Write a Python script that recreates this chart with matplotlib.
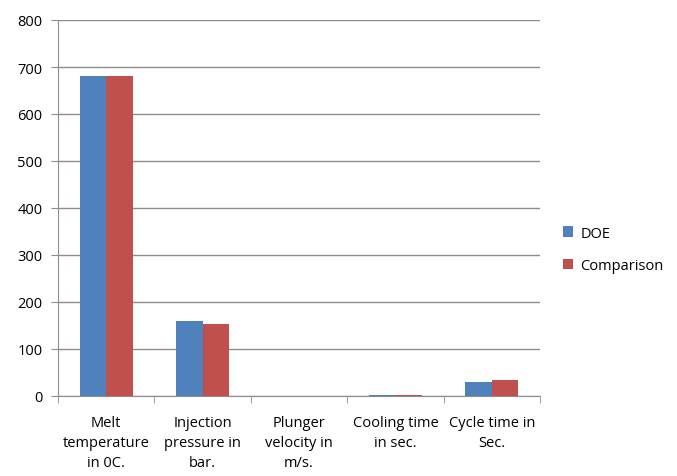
import numpy as np
import matplotlib.pyplot as plt

categories = ["Melt\ntemperature\nin 0C.", "Injection\npressure in\nbar.", "Plunger\nvelocity in\nm/s.",
              "Cooling time\nin sec.", "Cycle time in\nSec."]
doe = [680, 160, 0.5, 3, 29]
comparison = [680, 153, 0.5, 3, 34]

plt.rcParams['font.family'] = ['Open Sans', 'DejaVu Sans']

fig = plt.figure(figsize=(6.77, 4.77), dpi=100)
ax = fig.add_axes([58 / 677, 1 - 397 / 477, 482 / 677, 376 / 477])

x = np.arange(len(categories))
w = 0.275
ax.bar(x - w / 2, doe, w, color="#4F81BD", label="DOE", zorder=3)
ax.bar(x + w / 2, comparison, w, color="#C0504D", label="Comparison", zorder=3)

ax.set_xlim(-0.5, len(categories) - 0.5)
ax.set_ylim(0, 800)
ax.set_yticks(range(0, 801, 100))
ax.yaxis.grid(True, color="#8C8C8C", linewidth=1, zorder=0)

ax.set_xticks(x)
ax.set_xticklabels(categories, fontsize=10.5, linespacing=1.45)
ax.set_xticks(np.arange(-0.5, len(categories)), minor=True)
ax.tick_params(axis="x", which="major", length=0, pad=14)
ax.tick_params(axis="x", which="minor", length=5, color="#8C8C8C")
ax.tick_params(axis="y", length=5, color="#8C8C8C", labelsize=10.5, pad=6)

for s in ["top", "right"]:
    ax.spines[s].set_visible(False)
for s in ["left", "bottom"]:
    ax.spines[s].set_color("#8C8C8C")

ax.legend(loc="center left", bbox_to_anchor=(1.02, 0.39), frameon=False, fontsize=10.5,
          handlelength=0.7, handleheight=0.7, handletextpad=0.5, labelspacing=1.2)

fig.savefig("out.png", dpi=100)
